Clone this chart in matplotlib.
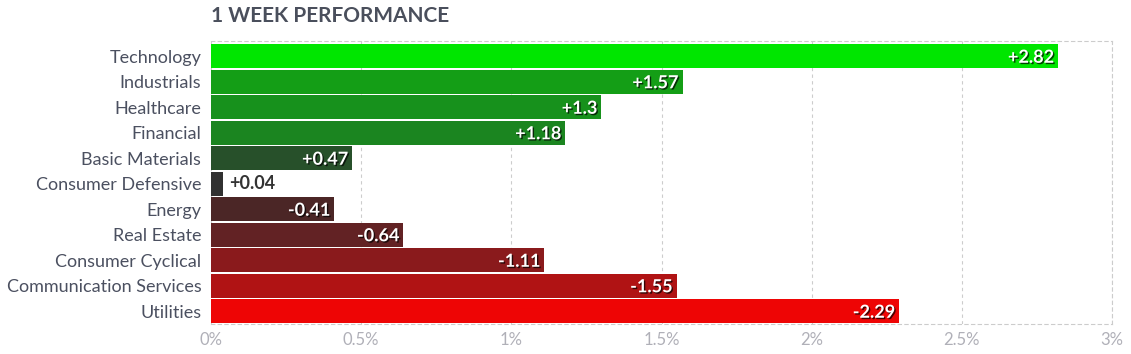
import matplotlib.pyplot as plt
import matplotlib.patheffects as pe
from matplotlib.ticker import FuncFormatter

sectors = ["Technology", "Industrials", "Healthcare", "Financial", "Basic Materials",
           "Consumer Defensive", "Energy", "Real Estate", "Consumer Cyclical",
           "Communication Services", "Utilities"]
perf = [2.82, 1.57, 1.3, 1.18, 0.47, 0.04, -0.41, -0.64, -1.11, -1.55, -2.29]
colors = ["#00e600", "#149e16", "#17911c", "#1b8520", "#27502a", "#313131",
          "#4b2626", "#622224", "#8a1a1c", "#b01314", "#ee0505"]

plt.rcParams['font.family'] = ['Lato', 'DejaVu Sans']

fig = plt.figure(figsize=(11.31, 3.54), dpi=100)
ax = fig.add_axes([0.1866, 0.0847, 0.7966, 0.7996])

ypos = list(range(len(sectors)))
widths = [abs(v) for v in perf]
ax.barh(ypos, widths, height=0.94, color=colors, zorder=3)

# value labels
for y, v, w in zip(ypos, perf, widths):
    lab = ("+" if v > 0 else "") + f"{v:g}"
    if w < 0.2:
        ax.annotate(lab, (w, y), xytext=(6, 0), textcoords="offset pixels",
                    ha="left", va="center", fontsize=13, fontweight="bold",
                    color="#333333", zorder=4)
    else:
        ax.annotate(lab, (w, y), xytext=(-4, -1), textcoords="offset pixels",
                    ha="right", va="center", fontsize=13, fontweight="bold",
                    color="white", zorder=4,
                    path_effects=[pe.withSimplePatchShadow(offset=(1, -1),
                                                           shadow_rgbFace="black",
                                                           alpha=0.7)])

ax.set_xlim(0, 3)
ax.set_ylim(10.5, -0.6)
ax.set_xticks([0, 0.5, 1, 1.5, 2, 2.5, 3])
ax.xaxis.set_major_formatter(FuncFormatter(lambda x, p: f"{x:g}%"))
ax.set_yticks(ypos)
ax.set_yticklabels(sectors)
ax.tick_params(axis="y", length=0, pad=7, labelsize=13, labelcolor="#4b5060")
ax.tick_params(axis="x", length=0, pad=6, labelsize=12, labelcolor="#b0b0b8")

ax.grid(axis="x", color="#cccccc", linestyle=(0, (3, 3)), linewidth=0.8, zorder=0)
ax.spines["left"].set_visible(False)
for s in ["top", "bottom", "right"]:
    ax.spines[s].set_color("#cccccc")
    ax.spines[s].set_linestyle((0, (3, 3)))
    ax.spines[s].set_linewidth(0.8)

fig.text(0.1866, 0.955, "1 WEEK PERFORMANCE", fontsize=15, fontweight="bold",
         color="#4a4f5c", ha="left", va="center")

plt.savefig("out.png", dpi=100)
